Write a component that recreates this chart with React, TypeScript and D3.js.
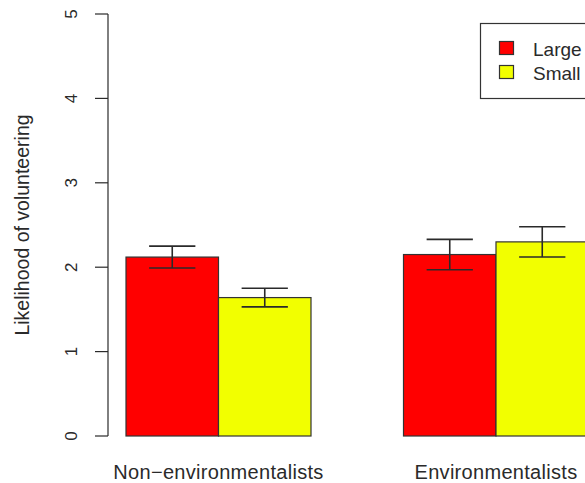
import * as d3 from "d3";

const groups = ["Non\u2212environmentalists", "Environmentalists"];
const seriesNames = ["Large", "Small"];
const seriesColors = ["#ff0000", "#f2ff00"];
const largeMeans = [2.12, 2.15];
const smallMeans = [1.64, 2.3];
const largeErr = [0.13, 0.18];
const smallErr = [0.11, 0.18];
const yTicks = [0, 1, 2, 3, 4, 5];

const W = 585;
const H = 483;
const font = "'Liberation Sans', Arial, sans-serif";
const ink = "#2a2a2a";

export default function App() {
  const y = d3.scaleLinear().domain([0, 5]).range([436, 14]);
  // bar units: each bar one unit wide, one unit gap between groups
  const x = d3.scaleLinear().domain([0, 5]).range([126, 588.5]);

  const means = [largeMeans, smallMeans];
  const errs = [largeErr, smallErr];

  const bars = groups.flatMap((g, gi) =>
    seriesNames.map((s, si) => ({
      key: `${g}-${s}`,
      x0: x(gi * 3 + si),
      x1: x(gi * 3 + si + 1),
      mean: means[si][gi],
      err: errs[si][gi],
      color: seriesColors[si],
    }))
  );

  return (
    <svg
      width={W}
      height={H}
      style={{ position: "absolute", left: 0, top: 0, background: "#fff" }}
    >
      {/* bars */}
      {bars.map((b) => (
        <rect
          key={b.key}
          x={b.x0}
          y={y(b.mean)}
          width={b.x1 - b.x0}
          height={y(0) - y(b.mean)}
          fill={b.color}
          stroke="#333"
          strokeWidth={1.2}
        />
      ))}

      {/* error bars */}
      {bars.map((b) => {
        const cx = (b.x0 + b.x1) / 2;
        const half = (b.x1 - b.x0) / 4;
        return (
          <g key={b.key + "-err"} stroke={ink} strokeWidth={1.6}>
            <line x1={cx} x2={cx} y1={y(b.mean + b.err)} y2={y(b.mean - b.err)} />
            <line x1={cx - half} x2={cx + half} y1={y(b.mean + b.err)} y2={y(b.mean + b.err)} />
            <line x1={cx - half} x2={cx + half} y1={y(b.mean - b.err)} y2={y(b.mean - b.err)} />
          </g>
        );
      })}

      {/* y axis */}
      <line x1={108} x2={108} y1={y(0)} y2={y(5)} stroke={ink} strokeWidth={1.2} />
      {yTicks.map((t) => (
        <g key={t}>
          <line x1={95} x2={108} y1={y(t)} y2={y(t)} stroke={ink} strokeWidth={1.2} />
          <text
            transform={`translate(77,${y(t)}) rotate(-90)`}
            textAnchor="middle"
            fontFamily={font}
            fontSize={17}
            fill={ink}
          >
            {t}
          </text>
        </g>
      ))}
      <text
        transform={`translate(29,${(y(0) + y(5)) / 2}) rotate(-90)`}
        textAnchor="middle"
        fontFamily={font}
        fontSize={19.5}
        fill={ink}
      >
        Likelihood of volunteering
      </text>

      {/* category labels */}
      {groups.map((g, gi) => (
        <text
          key={g}
          x={x(gi * 3 + 1)}
          y={479}
          textAnchor="middle"
          fontFamily={font}
          fontSize={20}
          letterSpacing={0.3}
          fill={ink}
        >
          {g}
        </text>
      ))}

      {/* legend */}
      <rect x={480.5} y={23.5} width={120} height={75} fill="#fff" stroke="#333" strokeWidth={1.2} />
      {seriesNames.map((s, si) => (
        <g key={s}>
          <rect
            x={499.5}
            y={41.5 + si * 24}
            width={14}
            height={13}
            fill={seriesColors[si]}
            stroke="#333"
            strokeWidth={1.2}
          />
          <text x={533} y={56 + si * 24} fontFamily={font} fontSize={19} fill={ink}>
            {s}
          </text>
        </g>
      ))}
    </svg>
  );
}
